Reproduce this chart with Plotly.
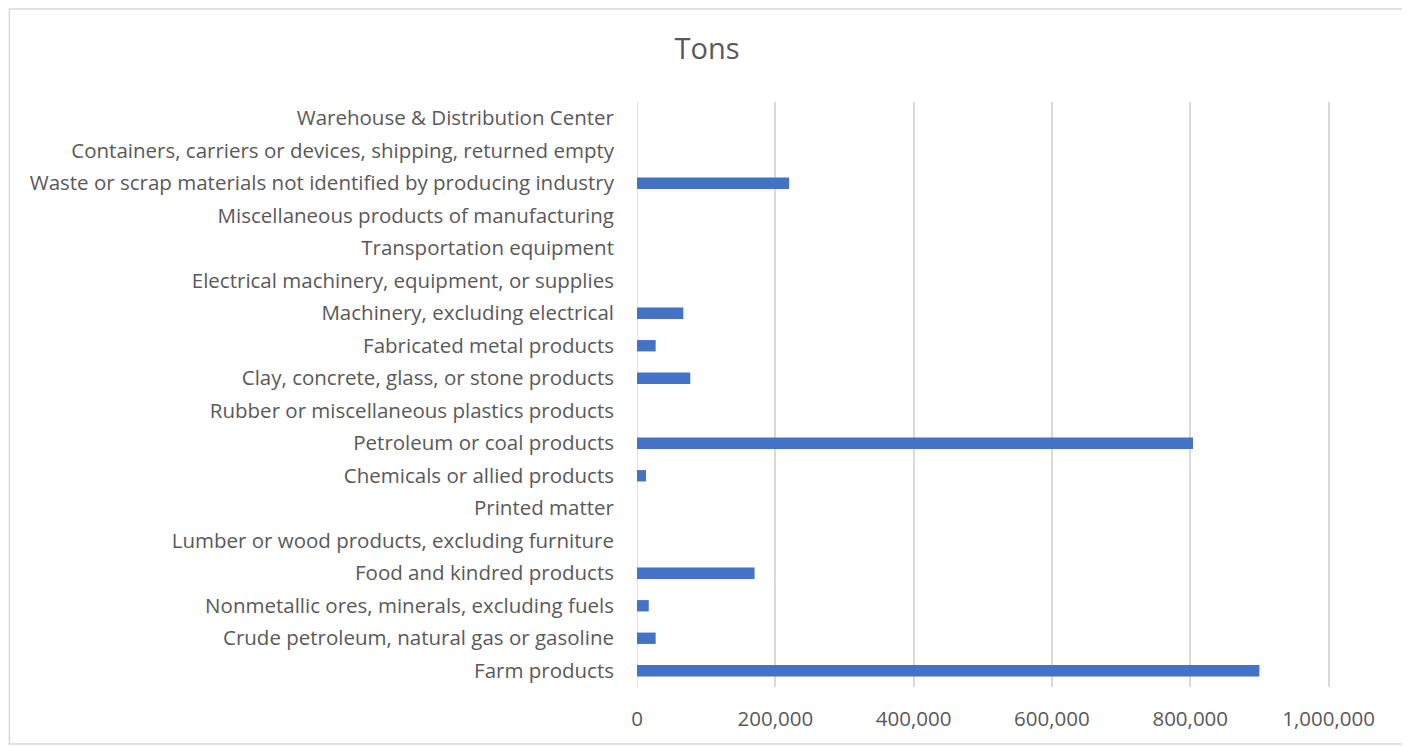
import plotly.graph_objects as go

categories = [
    "Farm products",
    "Crude petroleum, natural gas or gasoline",
    "Nonmetallic ores, minerals, excluding fuels",
    "Food and kindred products",
    "Lumber or wood products, excluding furniture",
    "Printed matter",
    "Chemicals or allied products",
    "Petroleum or coal products",
    "Rubber or miscellaneous plastics products",
    "Clay, concrete, glass, or stone products",
    "Fabricated metal products",
    "Machinery, excluding electrical",
    "Electrical machinery, equipment, or supplies",
    "Transportation equipment",
    "Miscellaneous products of manufacturing",
    "Waste or scrap materials not identified by producing industry",
    "Containers, carriers or devices, shipping, returned empty",
    "Warehouse & Distribution Center",
]
tons = [900000, 27000, 17000, 170000, 0, 0, 13000, 804000, 0, 77000, 27000, 67000, 0, 0, 0, 220000, 0, 0]
tick_values = [0, 200000, 400000, 600000, 800000, 1000000]
tick_labels = ["0", "200,000", "400,000", "600,000", "800,000", "1,000,000"]
x_max = 1005000

OFF = 8  # page body margin
W, H = 1410 - OFF, 746 - OFF
L, T = 637 - OFF, 102 - OFF
unit_px = 692 / 1000000
pw = unit_px * x_max
R = W - L - pw
B = H - (687 - OFF)
ph = H - T - B

def px_x(px):
    return (px - OFF - L) / pw

def px_y(py):
    return (H - B - (py - OFF)) / ph

fig = go.Figure(go.Bar(
    x=tons, y=categories, orientation="h",
    marker=dict(color="#4472C4", line=dict(width=0)),
))

fig.update_layout(
    width=W, height=H,
    margin=dict(l=L, r=R, t=T, b=B),
    paper_bgcolor="white", plot_bgcolor="white",
    font=dict(family="Open Sans", color="#595959", size=20),
    title=dict(text="Tons", x=(707 - OFF) / W, xanchor="center", y=1 - (49 - OFF) / H, yanchor="middle",
               font=dict(size=29, color="#595959")),
    bargap=0.65,
    showlegend=False,
    xaxis=dict(range=[0, x_max], tickvals=tick_values, ticktext=tick_labels,
               showgrid=True, gridcolor="#d9d9d9", gridwidth=1.5, zeroline=False,
               showline=False, ticks="", ticklabelstandoff=17, tickfont=dict(size=20.5)),
    yaxis=dict(categoryorder="array", categoryarray=categories, showgrid=False,
               zeroline=False, showline=False, ticks="", ticklabelstandoff=22,
               tickfont=dict(size=20.5)),
    shapes=[
        dict(type="rect", xref="paper", yref="paper",
             x0=px_x(9), x1=px_x(1404), y0=px_y(744), y1=px_y(9),
             line=dict(color="#d9d9d9", width=1.5), fillcolor="rgba(0,0,0,0)", layer="below"),
        dict(type="line", xref="x", yref="paper", x0=0, x1=0, y0=0, y1=1,
             line=dict(color="#d9d9d9", width=1.5), layer="below"),
    ],
)

fig.write_html("out.html")
